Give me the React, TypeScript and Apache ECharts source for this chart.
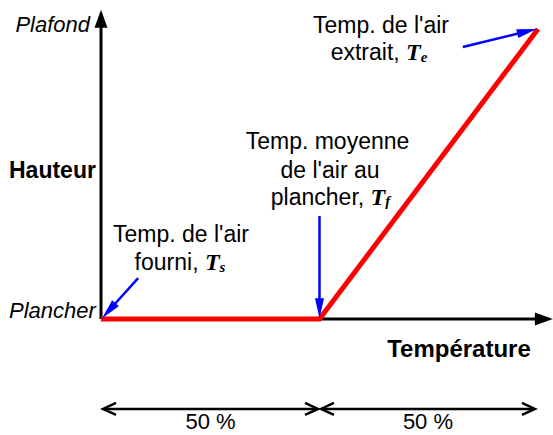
import React, { useEffect, useRef } from "react";
import * as echarts from "echarts";

// Temperature profile: x = % of the horizontal span, y = % of room height
const profileX = [0, 50, 100];
const profileY = [0, 0, 100];

// Axis arrows [x1, y1, x2, y2] (data units)
const axisArrows = [
  [0, 0, 103.4, 0],
  [0, 0, 0, 106.6],
];

// Blue pointer arrows [x1, y1, x2, y2]: Ts, Tf, Te
const pointerArrows = [
  [8.5, 14.1, 0.25, 0.3],
  [50, 35.5, 50, 0.3],
  [82.8, 93.8, 99.7, 100],
];

// Span arrows below the chart [x1, y, x2] and their labels
const spanStarts = [0.46, 50.34];
const spanEnds = [49.66, 99.3];
const spanY = -31;
const spanLabels = ["50 %", "50 %"];

const sansFont = "'Liberation Sans', Arial, sans-serif";
const serifFont = "'Liberation Serif', 'Times New Roman', serif";

function filledArrow(api: any, color: string, lw: number, headLen: number, halfW: number) {
  const p1 = api.coord([api.value(0), api.value(1)]);
  const p2 = api.coord([api.value(2), api.value(3)]);
  const dx = p2[0] - p1[0];
  const dy = p2[1] - p1[1];
  const len = Math.sqrt(dx * dx + dy * dy);
  const ux = dx / len;
  const uy = dy / len;
  const nx = -uy;
  const ny = ux;
  const bx = p2[0] - ux * headLen;
  const by = p2[1] - uy * headLen;
  return {
    type: "group",
    children: [
      {
        type: "line",
        shape: { x1: p1[0], y1: p1[1], x2: bx + ux * 2, y2: by + uy * 2 },
        style: { stroke: color, lineWidth: lw },
      },
      {
        type: "polygon",
        shape: {
          points: [
            [p2[0], p2[1]],
            [bx + nx * halfW, by + ny * halfW],
            [bx - nx * halfW, by - ny * halfW],
          ],
        },
        style: { fill: color },
      },
    ],
  };
}

export default function App() {
  const ref = useRef<HTMLDivElement>(null);
  useEffect(() => {
    if (!ref.current) return;
    const chart = echarts.init(ref.current, undefined, { renderer: "svg" });

    const subRich = {
      t: {
        fontFamily: serifFont,
        fontWeight: "bold",
        fontStyle: "italic",
        fontSize: 24,
        fill: "#000",
      },
      s: {
        fontFamily: serifFont,
        fontWeight: "bold",
        fontStyle: "italic",
        fontSize: 15,
        fill: "#000",
        verticalAlign: "bottom",
      },
    };

    const txt = (text: string, x: number, y: number, opts: any = {}) => ({
      type: "text",
      x,
      y,
      z: 100,
      style: {
        text,
        fontFamily: sansFont,
        fontSize: 23,
        fill: "#000",
        align: "center",
        verticalAlign: "middle",
        ...opts,
      },
    });

    const option: any = {
      animation: false,
      backgroundColor: "#ffffff",
      grid: { left: 101, top: 29, width: 437, height: 290 },
      xAxis: { type: "value", min: 0, max: 100, show: false },
      yAxis: { type: "value", min: 0, max: 100, show: false },
      series: [
        {
          type: "custom",
          clip: false,
          z: 1,
          encode: { x: [0, 2], y: [1, 3] },
          data: axisArrows,
          renderItem: (_p: any, api: any) => filledArrow(api, "#000000", 3, 18, 6.5),
        },
        {
          type: "line",
          clip: false,
          z: 2,
          showSymbol: false,
          symbol: "none",
          data: profileX.map((x, i) => [x, profileY[i]]),
          lineStyle: { color: "#ff0000", width: 5, join: "miter" },
        },
        {
          type: "custom",
          clip: false,
          z: 3,
          encode: { x: [0, 2], y: [1, 3] },
          data: pointerArrows,
          renderItem: (_p: any, api: any) => filledArrow(api, "#0000ff", 2.5, 20, 4.5),
        },
        {
          type: "custom",
          clip: false,
          z: 3,
          encode: { x: [0, 2], y: [1] },
          data: spanStarts.map((s, i) => [s, spanY, spanEnds[i], i]),
          renderItem: (params: any, api: any) => {
            const p1 = api.coord([api.value(0), api.value(1)]);
            const p2 = api.coord([api.value(2), api.value(1)]);
            const L = 13;
            const h = 6;
            const st = { stroke: "#000", lineWidth: 2.5, fill: "none" };
            return {
              type: "group",
              children: [
                { type: "line", shape: { x1: p1[0] + 1, y1: p1[1], x2: p2[0] - 1, y2: p2[1] }, style: st },
                {
                  type: "polyline",
                  shape: { points: [[p1[0] + L, p1[1] - h], [p1[0], p1[1]], [p1[0] + L, p1[1] + h]] },
                  style: st,
                },
                {
                  type: "polyline",
                  shape: { points: [[p2[0] - L, p2[1] - h], [p2[0], p2[1]], [p2[0] - L, p2[1] + h]] },
                  style: st,
                },
                {
                  type: "text",
                  x: (p1[0] + p2[0]) / 2,
                  y: p1[1] + 13,
                  style: {
                    text: spanLabels[params.dataIndex],
                    fontFamily: sansFont,
                    fontSize: 22,
                    fill: "#000",
                    align: "center",
                    verticalAlign: "middle",
                  },
                },
              ],
            };
          },
        },
      ],
      graphic: [
        txt("Plafond", 90, 24.5, { align: "right", fontStyle: "italic", fontSize: 22 }),
        txt("Hauteur", 9, 170, { align: "left", fontWeight: "bold", fontSize: 23 }),
        txt("Plancher", 9, 310, { align: "left", fontStyle: "italic", fontSize: 22 }),
        txt("Température", 459, 348.5, { fontWeight: "bold", fontSize: 24 }),
        txt("Temp. de l'air", 181, 233.5),
        txt("fourni, {t|T}{s|s}", 180, 262, { rich: subRich }),
        txt("Temp. moyenne", 327.5, 140.5),
        txt("de l'air au", 330, 170),
        txt("plancher, {t|T}{s|f}", 330.5, 196.5, { rich: subRich }),
        txt("Temp. de l'air", 381, 24.5),
        txt("extrait, {t|T}{s|e}", 379, 52, { rich: subRich }),
      ],
    };

    chart.setOption(option);
    return () => chart.dispose();
  }, []);

  return (
    <div
      ref={ref}
      style={{ position: "absolute", left: 0, top: 0, width: 553, height: 435, background: "#fff" }}
    />
  );
}
